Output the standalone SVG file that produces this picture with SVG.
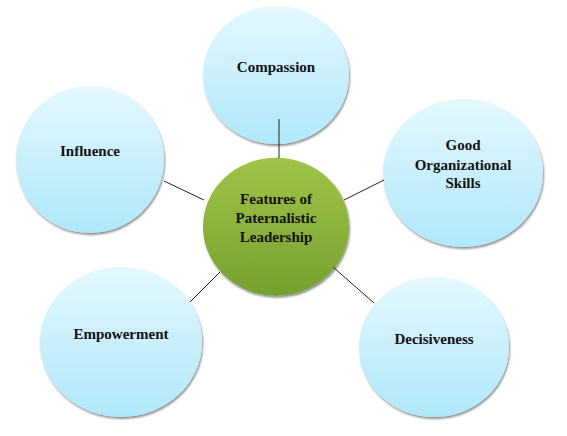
<svg xmlns="http://www.w3.org/2000/svg" width="567" height="436" viewBox="0 0 567 436">
<defs>
<linearGradient id="blue" x1="0" y1="0" x2="0" y2="1">
<stop offset="0" stop-color="#e4f8fe"/>
<stop offset="1" stop-color="#b0e8fb"/>
</linearGradient>
<linearGradient id="green" x1="0" y1="0" x2="0" y2="1">
<stop offset="0" stop-color="#a0c448"/>
<stop offset="1" stop-color="#76a02e"/>
</linearGradient>
<filter id="sh" x="-10%" y="-10%" width="125%" height="125%">
<feGaussianBlur in="SourceAlpha" stdDeviation="1.2"/>
<feOffset dx="1" dy="2" result="b"/>
<feComponentTransfer><feFuncA type="linear" slope="0.45"/></feComponentTransfer>
<feMerge><feMergeNode/><feMergeNode in="SourceGraphic"/></feMerge>
</filter>
</defs>
<style>
.leaf{fill:url(#blue);filter:url(#sh)}
.hub{fill:url(#green);filter:url(#sh)}
.t{font-family:"Liberation Serif","DejaVu Serif",serif;font-weight:bold;font-size:15px;fill:#111;text-anchor:middle}
.c{stroke:#222;stroke-width:1;fill:none}
</style>
<rect width="567" height="436" fill="#fff"/>
<g id="compassion">
<ellipse class="leaf" cx="276" cy="75" rx="73" ry="69"/>
<text class="t" x="276" y="72">Compassion</text>
</g>
<g id="influence">
<ellipse class="leaf" cx="90" cy="159.5" rx="74" ry="73.5"/>
<text class="t" x="90" y="156">Influence</text>
</g>
<g id="good-organizational-skills">
<ellipse class="leaf" cx="463" cy="173" rx="80" ry="74"/>
<text class="t" x="463" y="150">Good</text>
<text class="t" x="463" y="170">Organizational</text>
<text class="t" x="463" y="188">Skills</text>
</g>
<g id="empowerment">
<ellipse class="leaf" cx="121" cy="342" rx="81" ry="75"/>
<text class="t" x="121" y="339">Empowerment</text>
</g>
<g id="decisiveness">
<ellipse class="leaf" cx="434" cy="347" rx="75" ry="70"/>
<text class="t" x="434" y="344">Decisiveness</text>
</g>
<g id="hub">
<ellipse class="hub" cx="276" cy="226.7" rx="73" ry="69"/>
<text class="t" x="276" y="204">Features of</text>
<text class="t" x="276" y="223">Paternalistic</text>
<text class="t" x="276" y="242">Leadership</text>
</g>
<g id="connectors">
<line class="c" x1="279" y1="119" x2="279" y2="158"/>
<line class="c" x1="164" y1="181" x2="204" y2="200"/>
<line class="c" x1="344" y1="200" x2="384" y2="180"/>
<line class="c" x1="190" y1="302" x2="220" y2="272"/>
<line class="c" x1="333" y1="267" x2="374" y2="303"/>
</g>
</svg>
